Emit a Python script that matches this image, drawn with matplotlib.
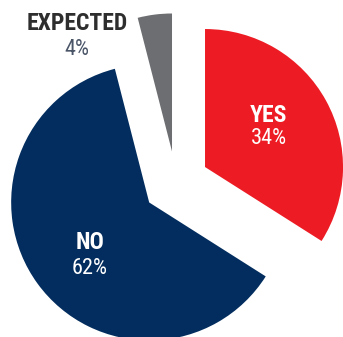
import matplotlib.pyplot as plt

labels = ["YES", "NO", "EXPECTED"]
shares = [34, 62, 4]
colors = ["#ED1C24", "#022D5E", "#6D6E71"]

plt.rcParams['font.family'] = ['Roboto Condensed', 'Roboto', 'DejaVu Sans']

fig = plt.figure(figsize=(3.43, 3.37), dpi=100)
ax = fig.add_axes([0, 0, 1, 1])

ax.pie(shares, colors=colors, startangle=90, counterclock=False,
       explode=[0.24, 0.24, 0.23], radius=1.0,
       wedgeprops=dict(linewidth=0))

# category name (bold) with its share underneath
name_kw = dict(fontsize=17, fontweight="bold", ha="center", va="center")
pct_kw = dict(fontsize=16, ha="center", va="center")

ax.text(0.67, 0.486, labels[0], color="white", **name_kw)
ax.text(0.67, 0.32, f"{shares[0]}%", color="white", **pct_kw)
ax.text(-0.623, -0.428, labels[1], color="white", **name_kw)
ax.text(-0.623, -0.62, f"{shares[1]}%", color="white", **pct_kw)
ax.text(-0.714, 1.159, labels[2], color="#2E2E2E", **name_kw)
ax.text(-0.717, 0.97, f"{shares[2]}%", color="#4A5568", **pct_kw)

ax.set_xlim(-1.275, 1.210)
ax.set_ylim(-1.116, 1.326)
ax.set_aspect('auto')
ax.axis('off')

plt.savefig('out.png', dpi=100)
